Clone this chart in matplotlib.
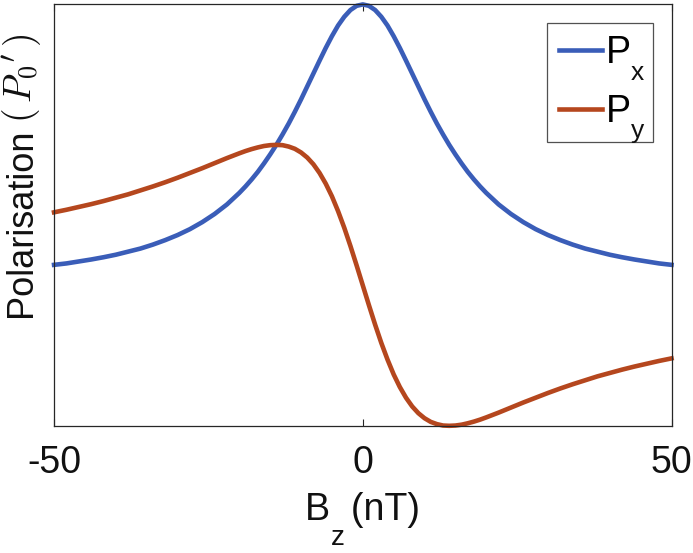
import matplotlib as M
M.use('agg')
import matplotlib.pyplot as plt

plt.rcParams['font.family'] = ['Liberation Sans', 'DejaVu Sans']
plt.rcParams['mathtext.fontset'] = 'cm'

# field values (nT) and polarisation readings (units of P0')
bz = [-50, -48, -46, -44, -42, -40, -38, -36, -34, -32, -30, -28, -26, -24, -22,
      -20, -19, -18, -17, -16, -15, -14, -13, -12, -11, -10, -9, -8, -7, -6,
      -5, -4, -3, -2, -1, 0, 1, 2, 3, 4, 5, 6, 7, 8, 9, 10,
      11, 12, 13, 14, 15, 16, 17, 18, 19, 20,
      22, 24, 26, 28, 30, 32, 34, 36, 38, 40, 42, 44, 46, 48, 50]
px = [0.073, 0.078, 0.085, 0.092, 0.100, 0.109, 0.120, 0.131, 0.145, 0.161,
      0.179, 0.200, 0.225, 0.254, 0.288,
      0.329, 0.352, 0.377, 0.404, 0.434, 0.466, 0.500, 0.537, 0.576, 0.618,
      0.662, 0.708, 0.754, 0.800, 0.845, 0.887, 0.925, 0.956, 0.980, 0.995,
      1.000,
      0.995, 0.980, 0.956, 0.925, 0.887, 0.845, 0.800, 0.754, 0.708, 0.662,
      0.618, 0.576, 0.537, 0.500, 0.466, 0.434, 0.404, 0.377, 0.352, 0.329,
      0.288, 0.254, 0.225, 0.200, 0.179, 0.161, 0.145, 0.131, 0.120, 0.109,
      0.100, 0.092, 0.085, 0.078, 0.073]
py = [0.260, 0.269, 0.279, 0.289, 0.300, 0.312, 0.324, 0.338, 0.352, 0.367,
      0.383, 0.400, 0.417, 0.435, 0.453,
      0.470, 0.478, 0.485, 0.491, 0.496, 0.499, 0.500, 0.499, 0.494, 0.486,
      0.473, 0.455, 0.431, 0.400, 0.362, 0.317, 0.264, 0.205, 0.140, 0.071,
      0.000,
      -0.071, -0.140, -0.205, -0.264, -0.317, -0.362, -0.400, -0.431, -0.455,
      -0.473, -0.486, -0.494, -0.499, -0.500, -0.499, -0.496, -0.491, -0.485,
      -0.478, -0.470,
      -0.453, -0.435, -0.417, -0.400, -0.383, -0.367, -0.352, -0.338, -0.324,
      -0.312, -0.300, -0.289, -0.279, -0.269, -0.260]
subs = ['x', 'y']

fig = plt.figure(figsize=(6.93, 5.53), dpi=100)
ax = fig.add_axes([0.078, 0.23, 0.891, 0.762])

ax.plot(bz, px, color='#3A5DB8', lw=3.3, label='P ', clip_on=False)
ax.plot(bz, py, color='#B5471E', lw=3.3, label='P ', clip_on=False)

ax.set_xlim(-50, 50)
ax.set_ylim(-0.5, 1.0)
ax.set_xticks([-50, 0, 50])
ax.set_xticklabels(['-50', '0', '50'])
ax.set_yticks([])
ax.tick_params(axis='x', direction='in', length=5, width=0.8, top=True,
               labelsize=27, pad=14, colors='#262626', labelcolor='#111111')
for s in ax.spines.values():
    s.set_color('#262626')
    s.set_linewidth(0.9)

xl = ax.set_xlabel('B  (nT)', fontsize=27, color='#111111', labelpad=8)
ax.annotate('z', xy=(0, 0), xycoords=xl, xytext=(18.5, -12), textcoords='offset points',
            fontsize=20, color='#111111', va='baseline', ha='left')

yl = ax.set_ylabel('Polarisation', fontsize=26, color='#111111')
ax.yaxis.set_label_coords(-0.024, 0.481)
ax.annotate(r"$(\,P_0{}^{\prime}\,)$", xy=(1, 1), xycoords=yl, xytext=(-5.6, 4),
            textcoords='offset points', fontsize=27, color='#111111',
            rotation=90, rotation_mode='anchor', ha='left', va='baseline')

leg = ax.legend(loc='upper right', fontsize=27, frameon=True, fancybox=False,
                handlelength=1.15, handletextpad=0.1, borderpad=0.32,
                labelspacing=0.6, bbox_to_anchor=(0.97, 0.955), borderaxespad=0)
leg.get_frame().set_edgecolor('#262626')
leg.get_frame().set_linewidth(0.9)
for t, s in zip(leg.get_texts(), subs):
    ax.annotate(s, xy=(0, 0), xycoords=t, xytext=(18, -6), textcoords='offset points',
                fontsize=19, color='#111111', va='baseline', ha='left', zorder=10)

fig.savefig('out.png', dpi=100)
plt.close(fig)
